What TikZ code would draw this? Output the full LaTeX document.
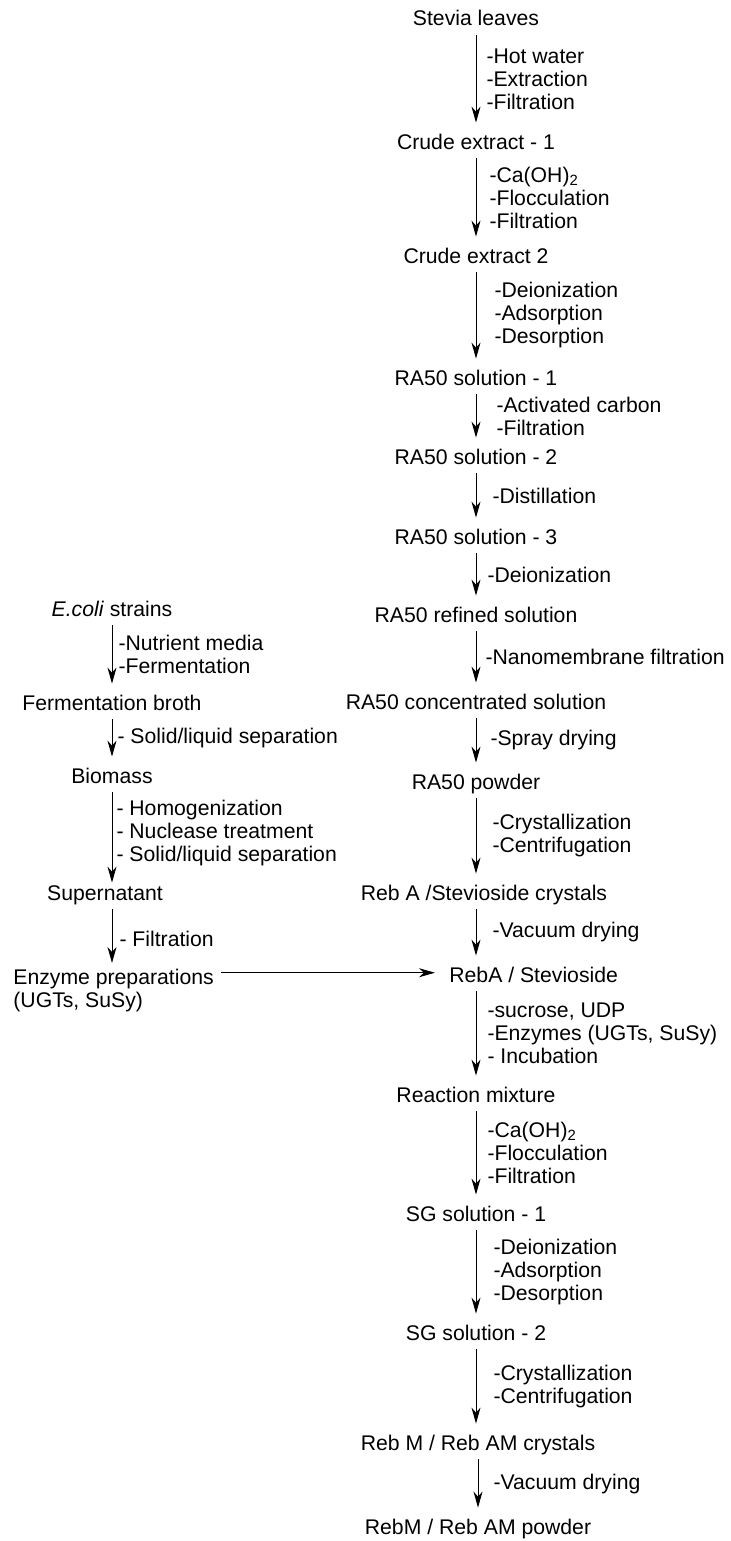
\documentclass[tikz,border=0pt]{standalone}
\usepackage{fontspec}
\setmainfont{Liberation Sans}
\usetikzlibrary{arrows.meta,calc}
\newcommand{\flowfont}{\fontsize{10.6}{11.5}\selectfont}
\tikzset{
  txt/.style={font=\flowfont,inner sep=0pt},
  stage/.style={txt,anchor=base,text height=13pt,text depth=4.5pt},
  proc/.style={txt,right,align=left},
  flow/.style={line width=0.5pt,-{Stealth[length=8pt,width=4.5pt,inset=2.5pt]}}
}
\begin{document}
\begin{tikzpicture}[x=0.5pt,y=-0.5pt]
\useasboundingbox (0,0) rectangle (730,1541);
% main column: leaves down to RebA / stevioside
\node[stage] (leaves) at (476,26) {Stevia leaves};
\node[stage] (crude1) at (476,149) {Crude extract - 1};
\node[stage] (crude2) at (476,263) {Crude extract 2};
\node[stage] (ra1) at (476,385) {RA50 solution - 1};
\node[stage] (ra2) at (476,464) {RA50 solution - 2};
\node[stage] (ra3) at (476,544) {RA50 solution - 3};
\node[stage] (refined) at (476,622) {RA50 refined solution};
\node[stage] (conc) at (476,709) {RA50 concentrated solution};
\node[stage] (powder) at (476,789) {RA50 powder};
\node[stage] (cryst) at (484,900) {Reb A /Stevioside crystals};
\node[stage,anchor=base west] (reba) at (449,982) {RebA / Stevioside};
% bioconversion part
\node[stage] (mix) at (476,1102) {Reaction mixture};
\node[stage] (sg1) at (476,1221) {SG solution - 1};
\node[stage] (sg2) at (476,1340) {SG solution - 2};
\node[stage] (mcryst) at (478,1450) {Reb M / Reb AM crystals};
\node[stage] (mpowder) at (478,1534) {RebM / Reb AM powder};
% left column: enzyme production
\node[stage] (ecoli) at (112,616) {\textit{E.coli} strains};
\node[stage] (broth) at (112,710) {Fermentation broth};
\node[stage] (biomass) at (112,783) {Biomass};
\node[stage] (super) at (105,900) {Supernatant};
\node[txt,align=left,anchor=north west] (enzyme) at (13,969) {Enzyme preparations\\(UGTs, SuSy)};

% steps, main column
\draw[flow] (leaves.south) -- node[proc,xshift=5pt] {-Hot water\\-Extraction\\-Filtration} (leaves.south |- crude1.north);
\draw[flow] (crude1.south) -- node[proc,xshift=6.5pt] {-Ca(OH)\textsubscript{2}\\-Flocculation\\-Filtration} (crude1.south |- crude2.north);
\draw[flow] (crude2.south) -- node[proc,xshift=9pt] {-Deionization\\-Adsorption\\-Desorption} (crude2.south |- ra1.north);
\draw[flow] (ra1.south) -- node[proc,xshift=10pt] {-Activated carbon\\-Filtration} (ra1.south |- ra2.north);
\draw[flow] (ra2.south) -- node[proc,xshift=8pt] {-Distillation} (ra2.south |- ra3.north);
\draw[flow] (ra3.south) -- node[proc,xshift=5.5pt] {-Deionization} (ra3.south |- refined.north);
\draw[flow] (refined.south) -- node[proc,xshift=4.5pt] {-Nanomembrane filtration} (refined.south |- conc.north);
\draw[flow] (conc.south) -- node[proc,xshift=7pt] {-Spray drying} (conc.south |- powder.north);
\draw[flow] (powder.south) -- node[proc,xshift=8pt] {-Crystallization\\-Centrifugation} (powder.south |- cryst.north);
\draw[flow] (cryst.south -| powder.south) -- node[proc,xshift=8pt] {-Vacuum drying} (powder.south |- reba.north);
\draw[flow] (mix.north |- reba.south) -- node[proc,xshift=5.5pt] {-sucrose, UDP\\-Enzymes (UGTs, SuSy)\\- Incubation} (mix.north);
\draw[flow] (mix.south) -- node[proc,xshift=5.5pt] {-Ca(OH)\textsubscript{2}\\-Flocculation\\-Filtration} (mix.south |- sg1.north);
\draw[flow] (sg1.south) -- node[proc,xshift=8.5pt] {-Deionization\\-Adsorption\\-Desorption} (sg1.south |- sg2.north);
\draw[flow] (sg2.south) -- node[proc,xshift=8.5pt] {-Crystallization\\-Centrifugation} (sg2.south |- mcryst.north);
\draw[flow] (mcryst.south) -- node[proc,xshift=7.5pt] {-Vacuum drying} (mcryst.south |- mpowder.north);

% steps, left column
\draw[flow] (ecoli.south) -- node[proc,xshift=3pt] {-Nutrient media\\-Fermentation} (ecoli.south |- broth.north);
\draw[flow] (broth.south) -- node[proc,xshift=2.5pt] {- Solid/liquid separation} (broth.south |- biomass.north);
\draw[flow,shorten >=-4.5pt] (biomass.south) -- node[proc,xshift=2pt] {- Homogenization\\- Nuclease treatment\\- Solid/liquid separation} (biomass.south |- super.north);
\draw[flow,shorten >=3pt] (super.south -| biomass.south) -- node[proc,xshift=3.5pt] {- Filtration} (biomass.south |- enzyme.north);

% enzymes go into the main line
\draw[flow,shorten <=3.5pt,shorten >=7pt] ($(enzyme.east |- reba.mid west)+(0,2pt)$) -- ($(reba.mid west)+(0,2pt)$);
\end{tikzpicture}
\end{document}
